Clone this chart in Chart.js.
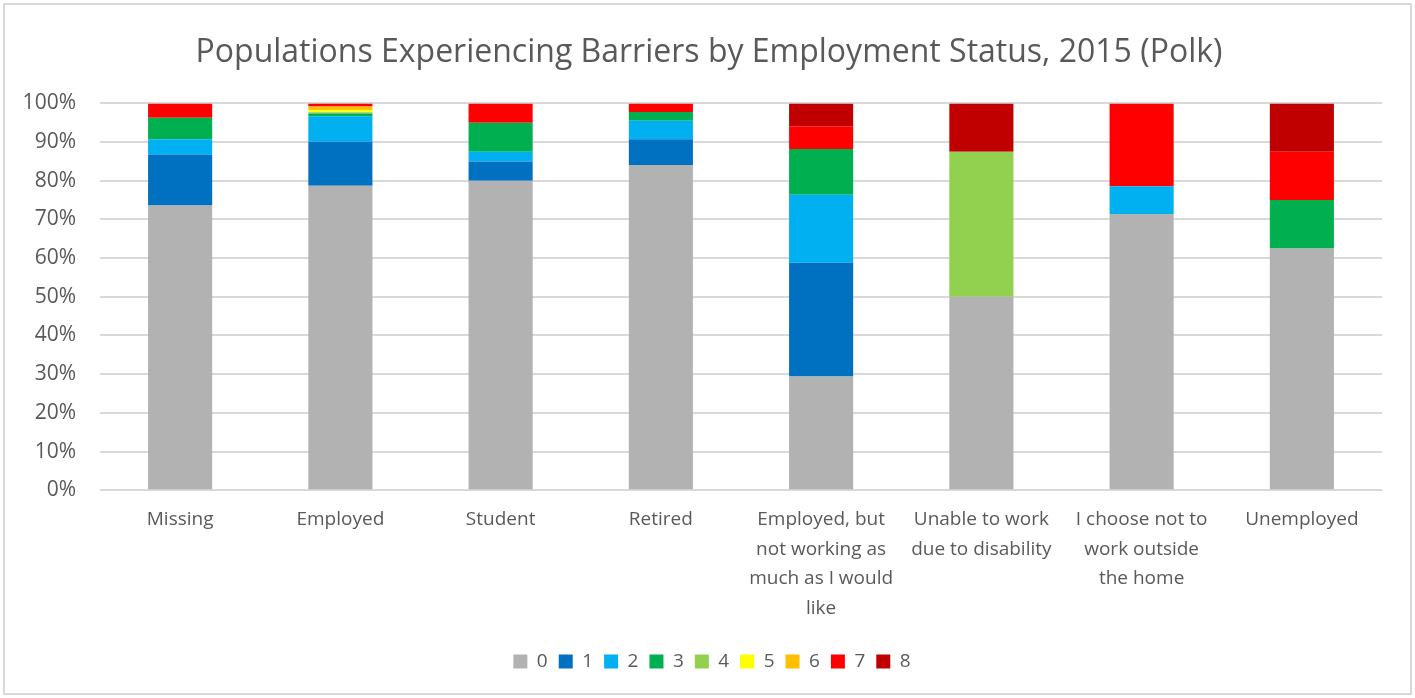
<!DOCTYPE html>
<html>
<head>
<meta charset="utf-8">
<script src="https://cdn.jsdelivr.net/npm/chart.js@4"></script>
<style>
  body { margin: 0; background: #fff; }
  #box { position: absolute; left: 3px; top: 3px; width: 1405px; height: 688px; border: 2px solid #d9d9d9; }
</style>
</head>
<body>
<div id="box"><canvas id="chart"></canvas></div>
<script>
const categories = [
  'Missing', 'Employed', 'Student', 'Retired',
  ['Employed, but', 'not working as', 'much as I would', 'like'],
  ['Unable to work', 'due to disability'],
  ['I choose not to', 'work outside', 'the home'],
  'Unemployed'
];
const seriesNames = ['0', '1', '2', '3', '4', '5', '6', '7', '8'];
const seriesColors = ['#b2b2b2', '#0070c0', '#00b0f0', '#00b050', '#92d050', '#ffff00', '#ffc000', '#ff0000', '#c00000'];

const s0 = [73.6, 78.7, 80.0, 84.1, 29.4, 50.0, 71.4, 62.5];
const s1 = [13.2, 11.4, 5.0, 6.6, 29.4, 0, 0, 0];
const s2 = [3.9, 6.6, 2.5, 4.8, 17.6, 0, 7.2, 0];
const s3 = [5.6, 0.7, 7.5, 2.3, 11.8, 0, 0, 12.5];
const s4 = [0, 0.3, 0, 0, 0, 37.5, 0, 0];
const s5 = [0, 0.5, 0, 0, 0, 0, 0, 0];
const s6 = [0, 1.0, 0, 0, 0, 0, 0, 0];
const s7 = [3.7, 0.8, 5.0, 2.2, 5.9, 0, 21.4, 12.5];
const s8 = [0, 0, 0, 0, 5.9, 12.5, 0, 12.5];
const allSeries = [s0, s1, s2, s3, s4, s5, s6, s7, s8];

const yTicks = [0, 10, 20, 30, 40, 50, 60, 70, 80, 90, 100];

const canvas = document.getElementById('chart');
canvas.width = 1405;
canvas.height = 688;
const ctx = canvas.getContext('2d');

const textColor = '#595959';
const fontFamily = '"Open Sans", "Liberation Sans", sans-serif';

const chart = new Chart(ctx, {
  type: 'bar',
  data: {
    labels: categories,
    datasets: allSeries.map((d, i) => ({
      label: seriesNames[i],
      data: d,
      backgroundColor: seriesColors[i],
      borderWidth: 0,
      categoryPercentage: 1,
      barPercentage: 0.4
    }))
  },
  options: {
    responsive: false,
    animation: false,
    layout: { padding: { left: 19, right: 28, top: 8, bottom: 12 } },
    plugins: {
      title: {
        display: true,
        text: 'Populations Experiencing Barriers by Employment Status, 2015 (Polk)',
        color: textColor,
        font: { family: fontFamily, size: 32, weight: 'normal' },
        padding: { top: 21, bottom: 31 }
      },
      legend: {
        position: 'bottom',
        labels: {
          color: textColor,
          font: { family: fontFamily, size: 19 },
          boxWidth: 14,
          boxHeight: 14,
          padding: 11
        }
      },
      tooltip: { enabled: false }
    },
    scales: {
      x: {
        stacked: true,
        grid: { display: false },
        border: { color: '#d9d9d9' },
        afterFit: scale => { scale.height += 11; },
        ticks: {
          color: textColor,
          font: { family: fontFamily, size: 19, lineHeight: 1.55 },
          padding: 7,
          maxRotation: 0,
          autoSkip: false
        }
      },
      y: {
        stacked: true,
        min: 0,
        max: 100,
        afterBuildTicks: axis => { axis.ticks = yTicks.map(v => ({ value: v })); },
        afterFit: scale => { scale.width = 76; },
        grid: { color: '#d9d9d9', lineWidth: 2, drawTicks: false },
        border: { display: false },
        ticks: {
          color: textColor,
          font: { family: fontFamily, size: 21 },
          padding: 24,
          callback: v => v + '%'
        }
      }
    }
  }
});

// nudge legend and title so they are centred like the original
function shiftDraw(box, dx) {
  const orig = box.draw;
  box.draw = function (area) {
    ctx.save();
    ctx.translate(dx, 0);
    orig.call(this, area);
    ctx.restore();
  };
}
shiftDraw(chart.legend, 9);
shiftDraw(chart.titleBlock, 6);
chart.draw();
</script>
</body>
</html>
